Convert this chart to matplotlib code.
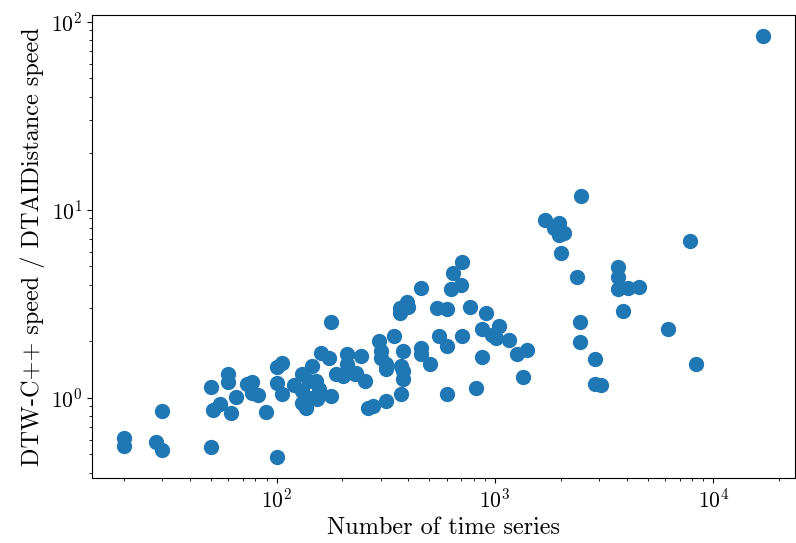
import matplotlib
matplotlib.use("Agg")
import matplotlib.pyplot as plt
import numpy as np

plt.rcParams['font.family'] = 'serif'
plt.rcParams['font.serif'] = ['cmr10', 'DejaVu Serif']
plt.rcParams['mathtext.fontset'] = 'cm'
plt.rcParams['axes.formatter.use_mathtext'] = True
plt.rcParams['axes.unicode_minus'] = False

# nombre de séries temporelles
n_series = [20, 20, 28, 30, 30, 50, 50, 51, 55, 60, 60, 61.5, 65, 73.5, 77, 77, 82, 89,
            100, 106, 100, 106, 100, 120, 130, 145, 159, 173, 130, 140, 130, 137, 151, 156,
            153, 178, 140, 188, 209, 209, 229, 244, 262, 202, 232, 254, 294, 344, 301, 378,
            301, 317, 317, 370, 378, 378, 370, 317, 277, 456, 456, 506, 556, 605, 605, 177,
            367, 367, 395, 399, 456, 545, 605, 708, 644, 631, 700, 769, 908, 872, 1040, 967,
            1009, 1155, 708, 872, 1256, 1394, 1337, 819, 2473, 1699, 1967, 1866, 2072, 1967,
            2010, 2372, 3640, 3640, 3640, 4080, 4580, 3873, 2449, 2449, 2863, 2863, 3048,
            7795, 6195, 8295, 16870]

# rapport des vitesses
speedup = [0.61, 0.555, 0.58, 0.53, 0.85, 0.55, 1.145, 0.86, 0.93, 1.34, 1.22, 0.83, 1.01,
           1.19, 1.22, 1.06, 1.04, 0.84, 1.46, 1.54, 1.20, 1.05, 0.485, 1.17, 1.34, 1.48,
           1.74, 1.62, 1.09, 1.0, 0.94, 0.88, 1.23, 1.12, 0.99, 1.025, 1.23, 1.34, 1.72,
           1.52, 1.34, 1.675, 0.88, 1.31, 1.36, 1.23, 2.01, 2.14, 1.78, 1.78, 1.63, 1.52,
           1.43, 1.48, 1.39, 1.26, 1.05, 0.96, 0.91, 1.85, 1.72, 1.52, 2.14, 1.89, 1.05,
           2.54, 3.02, 2.84, 3.25, 3.06, 3.86, 3.02, 2.98, 5.25, 4.64, 3.81, 3.96, 3.06,
           2.81, 2.31, 2.42, 2.17, 2.09, 2.04, 2.14, 1.65, 1.72, 1.80, 1.29, 1.13, 11.8,
           8.8, 8.47, 7.97, 7.49, 7.31, 5.86, 4.37, 4.94, 4.37, 3.77, 3.86, 3.91, 2.88,
           2.54, 1.97, 1.60, 1.19, 1.17, 6.79, 2.31, 1.52, 84]

fig = plt.figure(figsize=(7.96, 5.43), dpi=100)
ax = fig.add_axes([0.1156, 0.1197, 0.8831, 0.8527])
ax.scatter(n_series, speedup, s=100)
ax.set_xscale('log')
ax.set_yscale('log')
ax.set_xlabel("Number of time series", fontsize=17.5)
ax.set_ylabel("DTW-C++ speed / DTAIDistance speed", fontsize=17.5)
ax.tick_params(labelsize=15.5)
fig.savefig("out.png", dpi=100)
